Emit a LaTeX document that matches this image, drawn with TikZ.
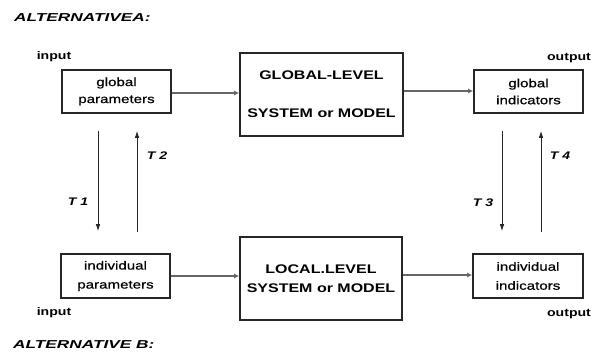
\documentclass[tikz,border=0pt]{standalone}
\usepackage{fontspec}
\setmainfont{Liberation Sans}
% slightly widened sans for all labels
\newfontfamily\wide[FakeStretch=1.28]{Liberation Sans}
\newfontfamily\widebox[FakeStretch=1.28,FakeBold=0.6]{Liberation Sans}
\newfontfamily\widetitle[FakeStretch=1.5]{Liberation Sans}

\usetikzlibrary{arrows.meta}

\begin{document}
\begin{tikzpicture}[x=1pt,y=-1pt,
  every node/.style={font=\wide, inner sep=0pt},
  smallbox/.style={draw=black!85, line width=1.6pt, minimum width=109pt, minimum height=43pt,
    align=center, font=\widebox\fontsize{11.8}{17}\selectfont},
  bigbox/.style={draw=black!85, line width=1.7pt, minimum width=163pt, minimum height=83pt,
    align=center, font=\wide\bfseries\fontsize{12.5}{19}\selectfont},
  harrow/.style={draw=black!60, line width=2.2pt, -{Latex[length=5pt,width=5pt]}},
  varrow/.style={draw=black!85, line width=0.9pt, -{Latex[length=7pt,width=4.5pt]}},
  tlabel/.style={font=\wide\bfseries\itshape\fontsize{11}{13}\selectfont},
  iolabel/.style={font=\wide\bfseries\fontsize{11}{13}\selectfont},
  title/.style={anchor=west, font=\widetitle\bfseries\itshape\fontsize{11.5}{13}\selectfont}
]
\useasboundingbox[fill=white] (0,0) rectangle (599,354);

% headings
\node[title] (ta) at (14,18) {ALTERNATIVEA:};
\node[title] (tb) at (13,345) {ALTERNATIVE B:};

% upper row
\node[smallbox] (gp) at (116.5,91.5) {global\\parameters};
\node[bigbox]   (GL) at (321.5,94.5) {GLOBAL-LEVEL\\[19pt]SYSTEM or MODEL};
\node[smallbox] (gi) at (528.5,91.5) {global\\indicators};

% lower row
\node[smallbox, minimum height=44pt, font=\widebox\fontsize{11.8}{19}\selectfont] (ip) at (115.5,276) {individual\\parameters};
\node[bigbox, minimum width=162pt] (LL) at (321,278.5) {LOCAL.LEVEL\\SYSTEM or MODEL};
\node[smallbox, minimum width=110pt, minimum height=44pt, font=\widebox\fontsize{11.8}{19}\selectfont] (ii) at (528,276) {individual\\indicators};

% input / output tags
\node[iolabel] (in1)  at (54,57)  {input};
\node[iolabel] (in2)  at (54,313) {input};
\node[iolabel] (out1) at (569,58) {output};
\node[iolabel] (out2) at (569,314) {output};

% horizontal flows
\draw[harrow] ([yshift=-1.5pt]gp.east) -- ([yshift=-1.5pt]gp.east -| GL.west);
\draw[harrow] ([yshift=0.5pt]gi.west -| GL.east) -- ([yshift=0.5pt]gi.west);
\draw[harrow] (ip.east) -- (ip.east -| LL.west);
\draw[harrow] ([yshift=1pt]ii.west -| LL.east) -- ([yshift=1pt]ii.west);

% transformations between levels
\draw[varrow, shorten <=17pt, shorten >=22pt] ([xshift=-18.5pt]gp.south) -- ([xshift=-18.5pt]gp.south |- ip.north);
\draw[varrow, shorten <=21pt, shorten >=17pt] ([xshift=20.5pt]gp.south |- ip.north) -- ([xshift=20.5pt]gp.south);
\draw[varrow, shorten <=17pt, shorten >=22pt] ([xshift=-26.5pt]gi.south) -- ([xshift=-26.5pt]gi.south |- ii.north);
\draw[varrow, shorten <=21pt, shorten >=17pt] ([xshift=12.5pt]gi.south |- ii.north) -- ([xshift=12.5pt]gi.south);

\node[tlabel] (t1) at (78,202)  {T 1};
\node[tlabel] (t2) at (157,156) {T 2};
\node[tlabel] (t3) at (483,203) {T 3};
\node[tlabel] (t4) at (560,156) {T 4};
\end{tikzpicture}
\end{document}
